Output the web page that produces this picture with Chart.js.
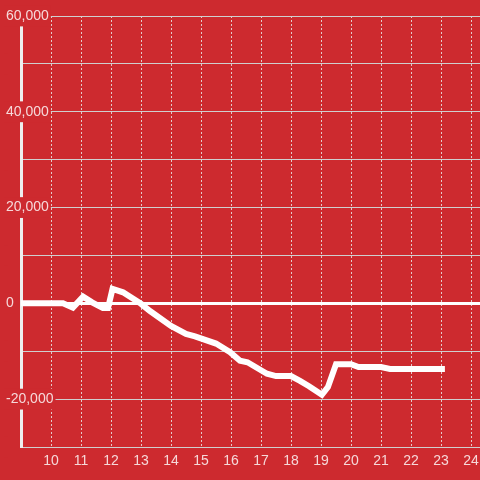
<!DOCTYPE html>
<html>
<head>
<meta charset="utf-8">
<script src="https://cdn.jsdelivr.net/npm/chart.js@4"></script>
<style>
  html, body { margin: 0; padding: 0; background: #cd2a2f; }
  #wrap { width: 480px; height: 480px; position: relative; }
</style>
</head>
<body>
<div id="wrap"><canvas id="c"></canvas></div>
<script>
const xValues = [8.5, 10.4, 10.73, 11.07, 11.37, 11.73, 11.9, 12.05, 12.4, 13.0, 13.3, 14.0, 14.5, 14.8, 15.5, 15.97,
  16.3, 16.55, 17.2, 17.5, 18.0, 18.3, 18.6, 19.03, 19.23, 19.5, 20.0, 20.25, 21.0, 21.3, 23.13];
const yValues = [0, 0, -900, 1400, 200, -1000, -1000, 3000, 2300, -100, -1600, -4700, -6400, -6900, -8400, -10200,
  -12000, -12300, -14700, -15200, -15200, -16200, -17300, -19100, -17500, -12700, -12700, -13300, -13300, -13700, -13700];
const xTicks = [10, 11, 12, 13, 14, 15, 16, 17, 18, 19, 20, 21, 22, 23, 24];
const yTicks = [-30000, -20000, -10000, 0, 10000, 20000, 30000, 40000, 50000, 60000];
const yLabelled = [-20000, 0, 20000, 40000, 60000];

const bg = '#cd2a2f';
const labelColor = 'rgba(255,255,255,0.82)';

function chart(element, data) {
  const ctx = document.querySelector(element).getContext('2d');
  new Chart(ctx, {
    type: 'line',
    data: {
      datasets: [{
        data: data,
        borderColor: '#ffffff',
        borderWidth: 6,
        pointRadius: 0,
        tension: 0,
        fill: false
      }]
    },
    options: {
      responsive: true,
      maintainAspectRatio: false,
      animation: false,
      layout: { padding: { left: 6, top: 16, right: 0, bottom: 0 } },
      plugins: { legend: { display: false }, tooltip: { enabled: false } },
      scales: {
        x: {
          type: 'linear',
          min: 9,
          max: 24.3,
          afterBuildTicks: s => { s.ticks = xTicks.map(v => ({ value: v })); },
          afterFit: s => { s.height = 33; s.paddingLeft = 0; s.paddingRight = 0; },
          ticks: {
            color: labelColor,
            font: { family: 'Liberation Sans', size: 14 },
            padding: 6,
            maxRotation: 0,
            autoSkip: false
          },
          grid: {
            color: 'rgba(230,230,230,0.85)',
            lineWidth: 1,
            drawTicks: false
          },
          border: { color: '#cfcfcf', width: 1, dash: [2, 2] }
        },
        y: {
          min: -30000,
          max: 60000,
          afterBuildTicks: s => { s.ticks = yTicks.map(v => ({ value: v })); },
          afterFit: s => { s.width = 15; },
          ticks: {
            color: labelColor,
            font: { family: 'Liberation Sans', size: 14 },
            mirror: true,
            crossAlign: 'near',
            padding: -15,
            autoSkip: false,
            showLabelBackdrop: true,
            backdropColor: bg,
            backdropPadding: 2,
            callback: v => yLabelled.includes(v) ? v.toLocaleString('en-US') : ''
          },
          grid: {
            color: c => (c.tick && c.tick.value === 0) ? '#ffffff' : '#cfcfcf',
            lineWidth: c => (c.tick && c.tick.value === 0) ? 3 : 1,
            drawTicks: false
          },
          border: { color: '#eeeeee', width: 3 }
        }
      }
    }
  });
}

const points = xValues.map((x, i) => ({ x: x, y: yValues[i] }));
chart('#c', points);
</script>
</body>
</html>
